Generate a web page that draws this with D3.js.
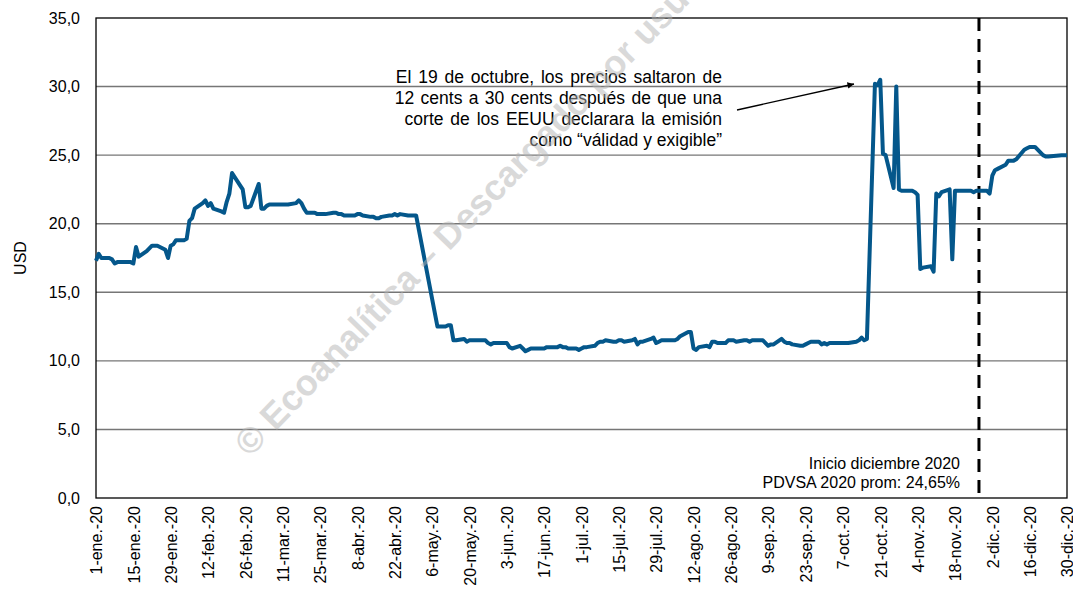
<!DOCTYPE html>
<html>
<head>
<meta charset="utf-8">
<script src="https://cdn.jsdelivr.net/npm/d3@7"></script>
<style>
  body { margin: 0; background: #fff; }
  text { font-family: "Liberation Sans", Arial, sans-serif; }
</style>
</head>
<body>
<div id="chart"></div>
<script>
// Precio del bono PDVSA 2020 (USD), 2020
const fechas = [
  '2020-01-01','2020-01-02','2020-01-03','2020-01-06','2020-01-07','2020-01-08','2020-01-09','2020-01-10',
  '2020-01-13','2020-01-14','2020-01-15','2020-01-16','2020-01-17','2020-01-20','2020-01-21','2020-01-22',
  '2020-01-23','2020-01-24','2020-01-27','2020-01-28','2020-01-29','2020-01-30','2020-01-31','2020-02-03',
  '2020-02-04','2020-02-05','2020-02-06','2020-02-07','2020-02-10','2020-02-11','2020-02-12','2020-02-13',
  '2020-02-14','2020-02-17','2020-02-18','2020-02-19','2020-02-20','2020-02-21','2020-02-24','2020-02-25',
  '2020-02-26','2020-02-27','2020-02-28','2020-03-02','2020-03-03','2020-03-04','2020-03-05','2020-03-06',
  '2020-03-09','2020-03-10','2020-03-11','2020-03-12','2020-03-13','2020-03-16','2020-03-17','2020-03-18',
  '2020-03-19','2020-03-20','2020-03-23','2020-03-24','2020-03-25','2020-03-26','2020-03-27','2020-03-30',
  '2020-03-31','2020-04-01','2020-04-02','2020-04-03','2020-04-06','2020-04-07','2020-04-08','2020-04-09',
  '2020-04-10','2020-04-13','2020-04-14','2020-04-15','2020-04-16','2020-04-17','2020-04-20','2020-04-21',
  '2020-04-22','2020-04-23','2020-04-24','2020-04-27','2020-04-28','2020-04-29','2020-04-30','2020-05-08',
  '2020-05-11','2020-05-12','2020-05-13','2020-05-14','2020-05-15','2020-05-18','2020-05-19','2020-05-20',
  '2020-05-21','2020-05-22','2020-05-25','2020-05-26','2020-05-27','2020-05-28','2020-05-29','2020-06-01',
  '2020-06-02','2020-06-03','2020-06-04','2020-06-05','2020-06-08','2020-06-09','2020-06-10','2020-06-11',
  '2020-06-12','2020-06-15','2020-06-16','2020-06-17','2020-06-18','2020-06-19','2020-06-22','2020-06-23',
  '2020-06-24','2020-06-25','2020-06-26','2020-06-29','2020-06-30','2020-07-01','2020-07-02','2020-07-03',
  '2020-07-06','2020-07-07','2020-07-08','2020-07-09','2020-07-10','2020-07-13','2020-07-14','2020-07-15',
  '2020-07-16','2020-07-17','2020-07-20','2020-07-21','2020-07-22','2020-07-23','2020-07-24','2020-07-27',
  '2020-07-28','2020-07-29','2020-07-30','2020-07-31','2020-08-03','2020-08-04','2020-08-05','2020-08-06',
  '2020-08-07','2020-08-10','2020-08-11','2020-08-12','2020-08-13','2020-08-14','2020-08-17','2020-08-18',
  '2020-08-19','2020-08-20','2020-08-21','2020-08-24','2020-08-25','2020-08-26','2020-08-27','2020-08-28',
  '2020-08-31','2020-09-01','2020-09-02','2020-09-03','2020-09-04','2020-09-07','2020-09-08','2020-09-09',
  '2020-09-10','2020-09-11','2020-09-14','2020-09-15','2020-09-16','2020-09-17','2020-09-18','2020-09-21',
  '2020-09-22','2020-09-23','2020-09-24','2020-09-25','2020-09-28','2020-09-29','2020-09-30','2020-10-01',
  '2020-10-02','2020-10-05','2020-10-06','2020-10-07','2020-10-08','2020-10-09','2020-10-12','2020-10-13',
  '2020-10-14','2020-10-15','2020-10-16','2020-10-19','2020-10-20','2020-10-21','2020-10-22','2020-10-23',
  '2020-10-26','2020-10-27','2020-10-28','2020-10-29','2020-10-30','2020-11-02','2020-11-03','2020-11-04',
  '2020-11-05','2020-11-06','2020-11-09','2020-11-10','2020-11-11','2020-11-12','2020-11-13','2020-11-16',
  '2020-11-17','2020-11-18','2020-11-19','2020-11-20','2020-11-23','2020-11-24','2020-11-25','2020-11-26',
  '2020-11-27','2020-11-30','2020-12-01','2020-12-02','2020-12-03','2020-12-04','2020-12-07','2020-12-08',
  '2020-12-09','2020-12-10','2020-12-11','2020-12-14','2020-12-15','2020-12-16','2020-12-17','2020-12-18',
  '2020-12-21','2020-12-22','2020-12-23','2020-12-28','2020-12-29','2020-12-30'
];
const precios = [
  17.3,17.8,17.5,17.5,17.4,17.1,17.2,17.2,
  17.2,17.2,17.1,18.3,17.6,18.0,18.2,18.4,
  18.4,18.4,18.1,17.5,18.4,18.5,18.8,18.8,
  18.9,20.2,20.4,21.1,21.5,21.7,21.3,21.5,
  21.1,20.9,20.8,21.6,22.2,23.7,22.8,22.5,
  21.2,21.2,21.3,22.9,21.1,21.1,21.3,21.4,
  21.4,21.4,21.4,21.4,21.4,21.5,21.7,21.5,
  21.1,20.8,20.8,20.7,20.7,20.7,20.7,20.8,
  20.8,20.7,20.7,20.6,20.6,20.6,20.7,20.7,
  20.6,20.5,20.5,20.4,20.4,20.5,20.6,20.6,
  20.7,20.6,20.7,20.6,20.6,20.6,20.6,12.5,
  12.5,12.6,12.6,11.5,11.5,11.6,11.4,11.5,
  11.5,11.5,11.5,11.5,11.3,11.2,11.3,11.3,
  11.3,11.3,11.0,10.9,11.1,10.9,10.7,10.8,
  10.9,10.9,10.9,10.9,11.0,11.0,11.0,11.1,
  11.0,11.0,10.9,10.9,10.8,10.9,11.0,11.0,
  11.1,11.3,11.4,11.4,11.5,11.4,11.4,11.5,
  11.5,11.4,11.5,11.6,11.2,11.4,11.4,11.6,
  11.7,11.3,11.4,11.5,11.5,11.5,11.5,11.6,
  11.8,12.1,12.1,10.9,10.8,11.0,11.1,11.0,
  11.4,11.4,11.3,11.3,11.5,11.5,11.5,11.4,
  11.5,11.5,11.4,11.5,11.5,11.5,11.3,11.1,
  11.2,11.2,11.6,11.4,11.3,11.3,11.2,11.1,
  11.1,11.2,11.3,11.4,11.4,11.2,11.3,11.2,
  11.3,11.3,11.3,11.3,11.3,11.3,11.4,11.5,
  11.7,11.5,11.6,30.2,30.1,30.5,25.1,25.0,
  22.6,30.0,22.5,22.4,22.4,22.4,22.3,22.1,
  16.7,16.8,16.9,16.5,22.2,22.0,22.3,22.5,
  17.4,22.4,22.4,22.4,22.4,22.4,22.3,22.4,
  22.4,22.4,22.2,23.5,23.9,24.0,24.3,24.6,
  24.6,24.6,24.7,25.4,25.5,25.6,25.6,25.6,
  25.0,24.9,24.9,25.0,25.0,25.0
];

const inicioDominio = '2020-01-01';
const finDominio = '2020-12-30';
const fechaDiciembre = '2020-11-27';
const mesesAbrev = ['ene.','feb.','mar.','abr.','may.','jun.','jul.','ago.','sep.','oct.','nov.','dic.'];
const yTicks = [0, 5, 10, 15, 20, 25, 30, 35];

const parse = d3.timeParse('%Y-%m-%d');
const data = fechas.map((f, i) => ({ date: parse(f), value: precios[i] }));

const W = 1073, H = 590;
const margin = { top: 18, right: 6, bottom: 92, left: 96 };
const width = W - margin.left - margin.right;
const height = H - margin.top - margin.bottom;

const svg = d3.select('#chart').append('svg')
  .attr('width', W).attr('height', H)
  .style('display', 'block');

svg.append('rect').attr('width', W).attr('height', H).attr('fill', '#fff');

const g = svg.append('g').attr('transform', `translate(${margin.left},${margin.top})`);

const x = d3.scaleTime().domain([parse(inicioDominio), parse(finDominio)]).range([0, width]);
const y = d3.scaleLinear().domain([0, 35]).range([height, 0]);

// gridlines
g.append('g')
  .selectAll('line')
  .data(yTicks.filter(t => t > 0 && t < 35))
  .join('line')
  .attr('x1', 0).attr('x2', width)
  .attr('y1', d => y(d)).attr('y2', d => y(d))
  .attr('stroke', '#767676').attr('stroke-width', 1.4);

// frame
g.append('rect')
  .attr('width', width).attr('height', height)
  .attr('fill', 'none').attr('stroke', '#000').attr('stroke-width', 1.3);

// y axis labels
const fmt = v => d3.format('.1f')(v).replace('.', ',');
const yAxis = d3.axisLeft(y).tickValues(yTicks).tickFormat(fmt).tickSize(0).tickPadding(16);
g.append('g').call(yAxis)
  .call(s => s.select('.domain').remove())
  .selectAll('text')
  .attr('font-size', 16).attr('fill', '#000')
  .style('font-family', '"Liberation Sans", Arial, sans-serif');

// x axis labels every 14 days
const start = parse(inicioDominio);
const tickDates = d3.range(0, 27).map(i => d3.timeDay.offset(start, 14 * i));
const xFmt = d => `${d.getDate()}-${mesesAbrev[d.getMonth()]}-${String(d.getFullYear()).slice(2)}`;
const xAxis = d3.axisBottom(x).tickValues(tickDates).tickFormat(xFmt).tickSize(0).tickPadding(0);
g.append('g').attr('transform', `translate(0,${height})`).call(xAxis)
  .call(s => s.select('.domain').remove())
  .selectAll('text')
  .attr('font-size', 16).attr('fill', '#000')
  .style('font-family', '"Liberation Sans", Arial, sans-serif')
  .attr('text-anchor', 'end')
  .attr('transform', 'rotate(-90)')
  .attr('x', -8).attr('y', 0).attr('dy', '0.36em');

// y title
svg.append('text')
  .attr('transform', `translate(26,${margin.top + y(17.5)}) rotate(-90)`)
  .attr('text-anchor', 'middle')
  .attr('font-size', 16)
  .text('USD');

// dashed line: inicio diciembre
g.append('line')
  .attr('x1', x(parse(fechaDiciembre))).attr('x2', x(parse(fechaDiciembre)))
  .attr('y1', 0).attr('y2', height)
  .attr('stroke', '#000').attr('stroke-width', 3)
  .attr('stroke-dasharray', '13,8');

// price line
const line = d3.line().x(d => x(d.date)).y(d => y(d.value));
g.append('path')
  .datum(data)
  .attr('d', line)
  .attr('fill', 'none')
  .attr('stroke', '#04578b')
  .attr('stroke-width', 4)
  .attr('stroke-linejoin', 'round');

// annotation
const notaLineas = [
  'El 19 de octubre, los precios saltaron de',
  '12 cents a 30 cents después de que una',
  'corte de los EEUU declarara la emisión',
  'como “válidad y exigible”'
];
const notaEspaciado = [2, 1.5, 2, 0];
svg.append('g').selectAll('text')
  .data(notaLineas)
  .join('text')
  .attr('x', 722)
  .attr('y', (d, i) => 83 + i * 21)
  .attr('text-anchor', 'end')
  .attr('font-size', 17.5)
  .attr('word-spacing', (d, i) => notaEspaciado[i])
  .text(d => d);

svg.append('defs').append('marker')
  .attr('id', 'flecha')
  .attr('viewBox', '0 0 10 10')
  .attr('refX', 10).attr('refY', 5)
  .attr('markerWidth', 5).attr('markerHeight', 5)
  .attr('markerUnits', 'strokeWidth')
  .attr('orient', 'auto')
  .append('path').attr('d', 'M0,0 L10,5 L0,10 z').attr('fill', '#000');

svg.append('line')
  .attr('x1', 737).attr('y1', 110)
  .attr('x2', 854).attr('y2', 84)
  .attr('stroke', '#000').attr('stroke-width', 1.3)
  .attr('marker-end', 'url(#flecha)');

// bottom note
const pieLineas = ['Inicio diciembre 2020', 'PDVSA 2020 prom: 24,65%'];
svg.append('g').selectAll('text')
  .data(pieLineas)
  .join('text')
  .attr('x', 960)
  .attr('y', (d, i) => 469 + i * 19)
  .attr('text-anchor', 'end')
  .attr('font-size', 16)
  .text(d => d);

// watermark
svg.append('text')
  .attr('transform', 'translate(250,458) rotate(-46)')
  .attr('font-size', 36)
  .attr('font-weight', 'bold')
  .attr('fill', '#b4b4b4')
  .attr('opacity', 0.5)
  .text('© Ecoanalítica – Descargado por usuario');
</script>
</body>
</html>
